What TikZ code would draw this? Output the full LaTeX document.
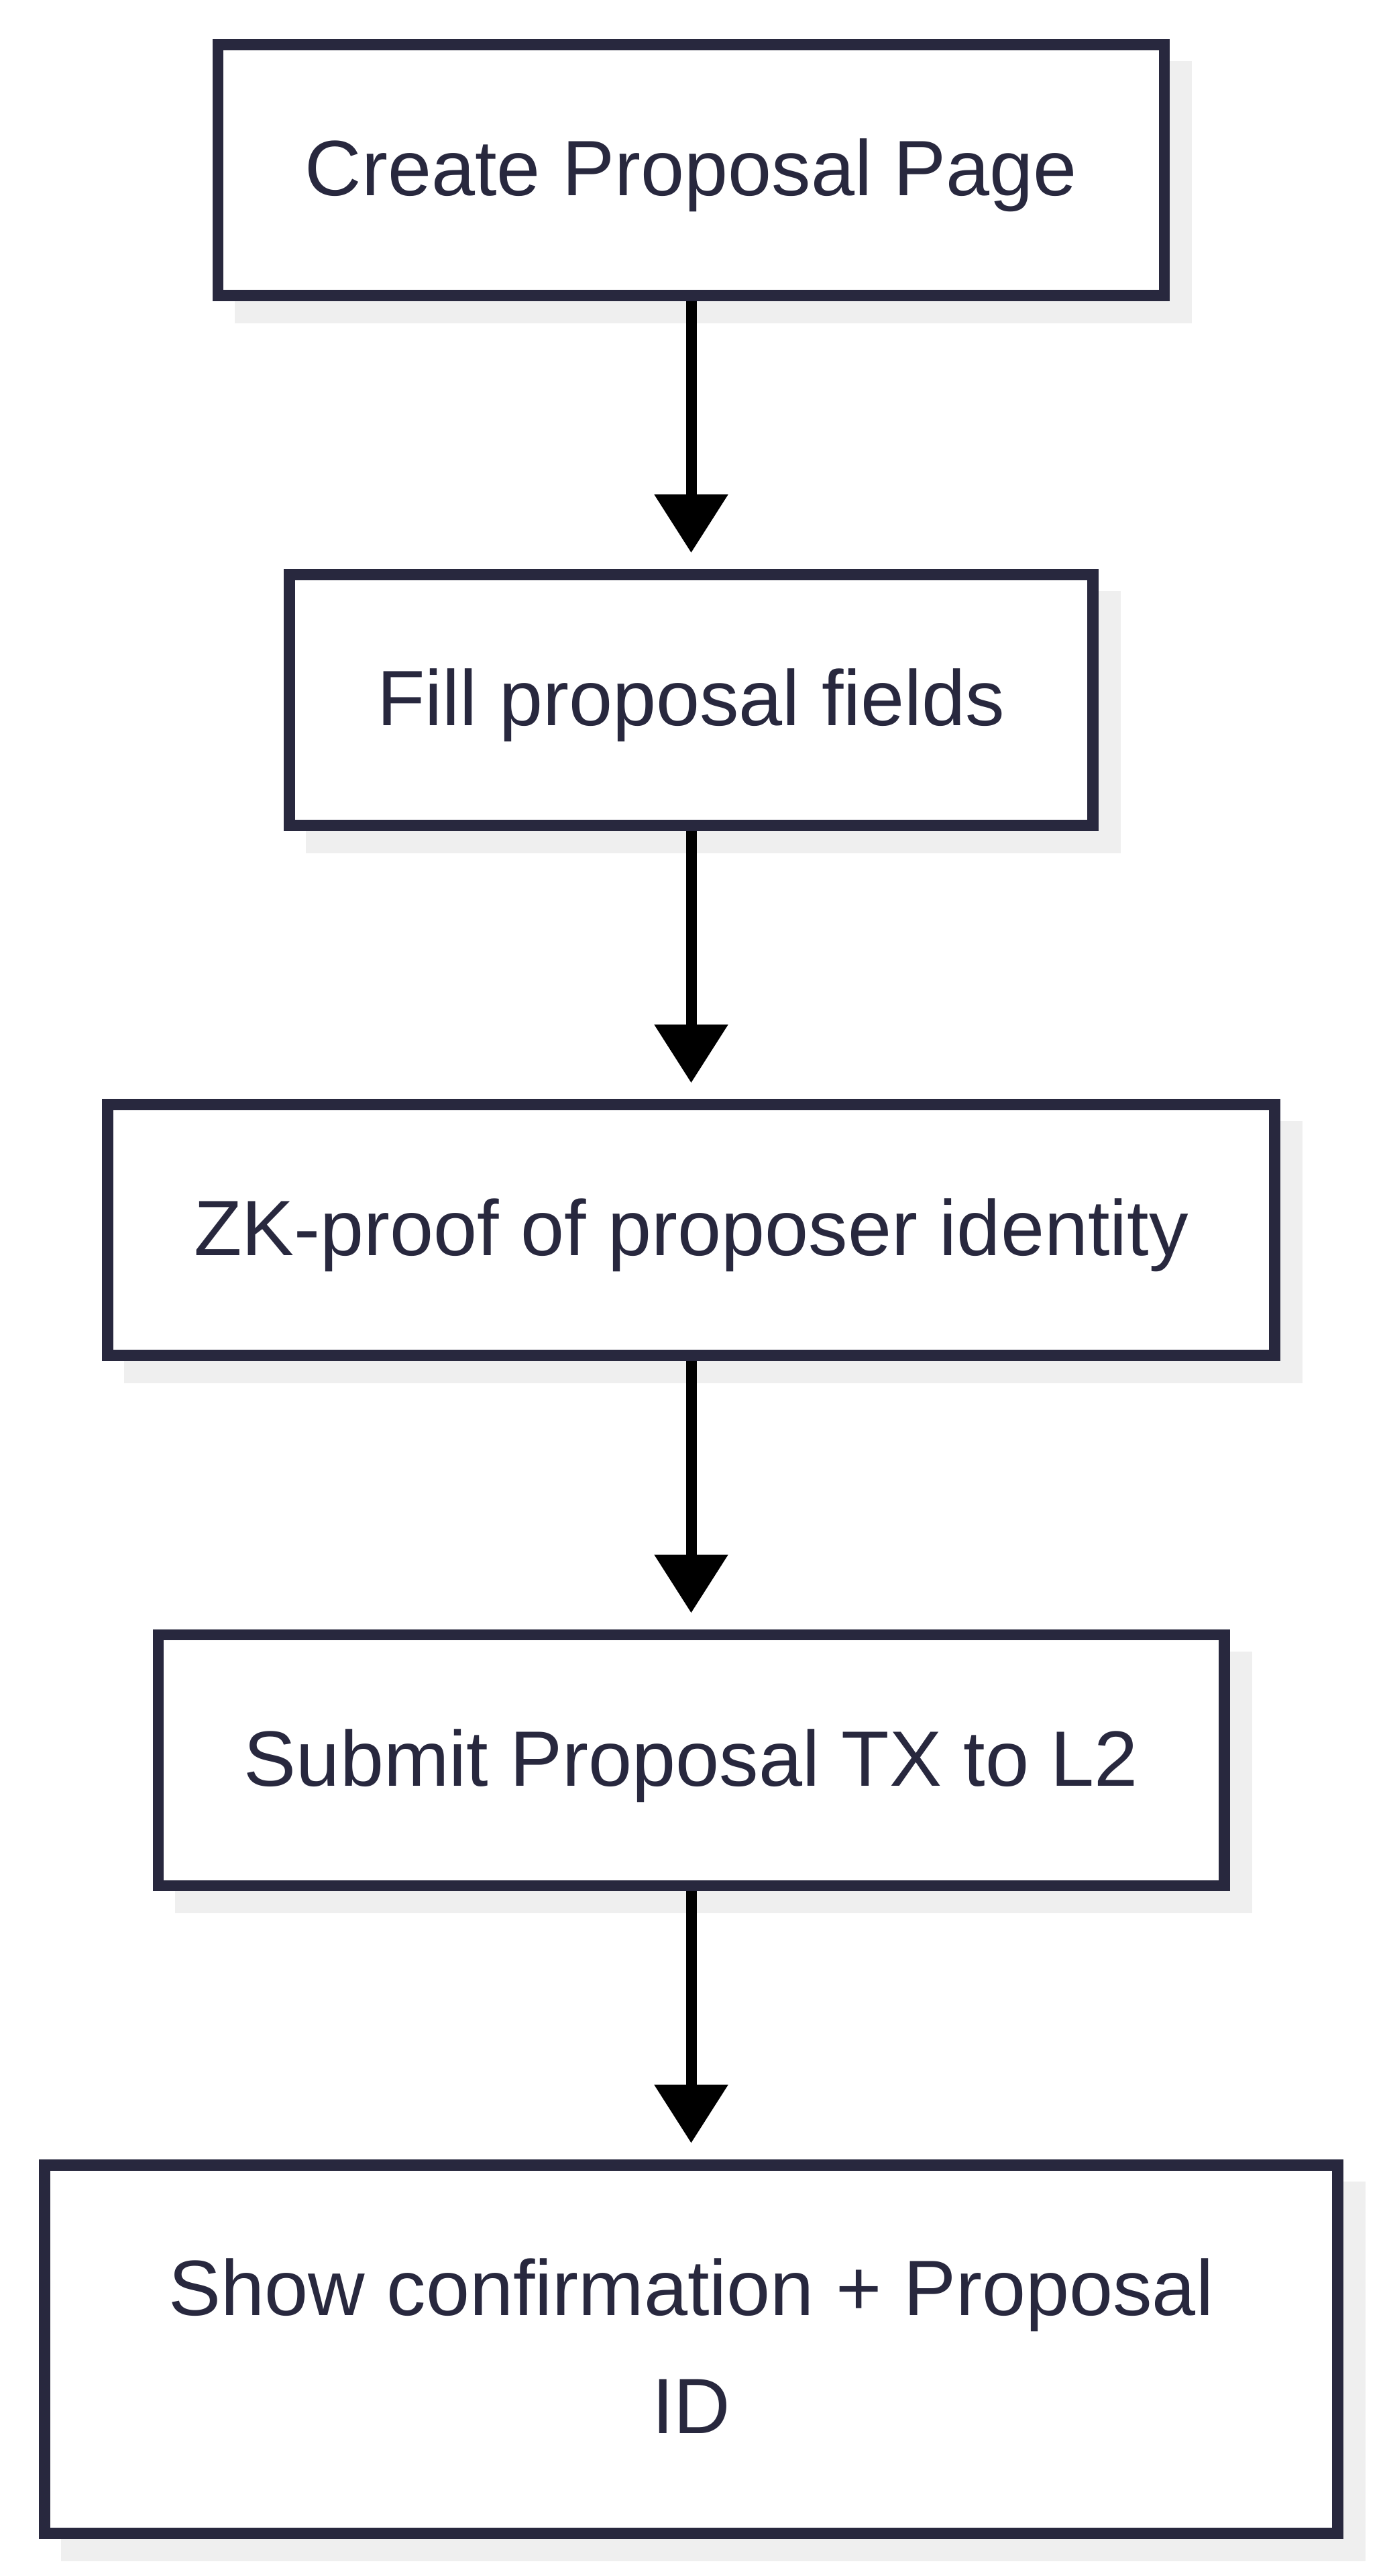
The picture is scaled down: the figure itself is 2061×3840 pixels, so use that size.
\documentclass[tikz,border=0pt]{standalone}
\usepackage{fontspec}
\setmainfont{Liberation Sans}
\usetikzlibrary{arrows.meta,positioning,shadows}
\definecolor{inkblue}{HTML}{28283E}
\definecolor{shadowgray}{HTML}{EFEFEF}
\tikzset{
    task/.style={
           rectangle,
           draw=inkblue, line width=4.2pt,
           fill=white,
           text=inkblue,
           font=\fontsize{29.25pt}{44pt}\selectfont,
           minimum height=93.5pt,
           inner sep=0pt,
           text height=24.9pt,
           text depth=5.85pt,
           align=center,
           drop shadow={shadow xshift=8.25pt, shadow yshift=-8.25pt,
                        fill=shadowgray, draw=shadowgray, line width=4.2pt, opacity=1}},
    % Define arrow style
    flow/.style={
           -{Triangle[length=21.75pt,width=26.5pt]},
           line width=4pt,
           black,
           shorten >=6pt,}
}
\begin{document}
\begin{tikzpicture}[x=0.25pt, y=-0.25pt, node distance=99.85pt]
	\useasboundingbox (0,0) rectangle (2061,3840);
	\node[task, minimum width=352.75pt] (create) at (1030.5,253.3) {Create Proposal Page};
	\node[task, minimum width=299.4pt, below=of create] (fields) {Fill proposal fields};
	\node[task, minimum width=435.15pt, below=of fields] (zkproof) {ZK-proof of proposer identity};
	\node[task, minimum width=397.3pt, below=of zkproof] (submit) {Submit Proposal TX to L2};
	\node[task, minimum width=481.9pt, minimum height=137.3pt, text height=68.9pt, below=of submit] (confirm) {Show confirmation + Proposal\\ID};

	\draw[flow] (create) -- (fields);
	\draw[flow] (fields) -- (zkproof);
	\draw[flow] (zkproof) -- (submit);
	\draw[flow] (submit) -- (confirm);
\end{tikzpicture}
\end{document}
